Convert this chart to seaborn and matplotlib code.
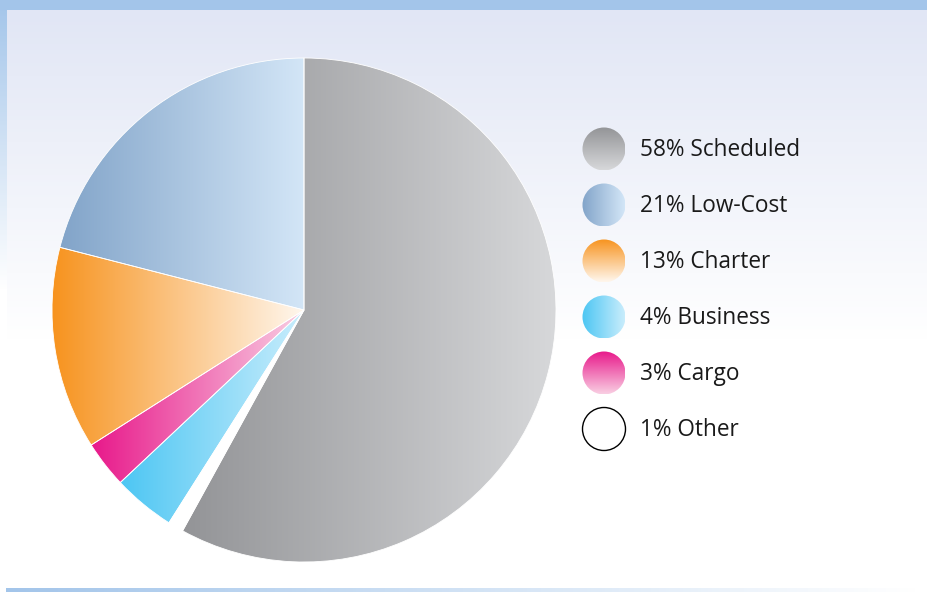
import numpy as np
import matplotlib
matplotlib.use("Agg")
import matplotlib.pyplot as plt
import seaborn as sns

# Market share by airline type (legend order)
categories = ["Scheduled", "Low-Cost", "Charter", "Business", "Cargo", "Other"]
shares = [58, 21, 13, 4, 3, 1]

# gradient start / end colours per category
color_start = ["#939497", "#82a4c9", "#f7931e", "#4cc6f3", "#e8188a", "#ffffff"]
color_end = ["#d7d8da", "#d3e6f7", "#fff7ee", "#c9edfc", "#f9cfe3", "#ffffff"]
# legend swatches: vertical or horizontal gradient
legend_dir = ["v", "h", "v", "h", "v", "none"]

# pie is drawn clockwise from 12 o'clock in this order
pie_order = [0, 5, 3, 4, 2, 1]

W, H = 928, 592
sns.set_theme(style="white")
plt.rcParams["font.family"] = ["Open Sans", "DejaVu Sans"]

fig = plt.figure(figsize=(W / 100, H / 100), dpi=100)
ax = fig.add_axes([0, 0, 1, 1])
ax.set_xlim(0, W)
ax.set_ylim(0, H)
ax.axis("off")


def Y(y):
    # pixel row (from top) -> data y
    return H - y


def grad_image(c0, c1, direction, extent, clip=None, zorder=2):
    cmap = sns.blend_palette([c0, c1], as_cmap=True)
    g = np.linspace(0, 1, 256)
    arr = g.reshape(1, -1) if direction == "h" else g.reshape(-1, 1)
    im = ax.imshow(arr, cmap=cmap, vmin=0, vmax=1, extent=extent,
                   origin="upper", aspect="auto", interpolation="bicubic",
                   zorder=zorder)
    if clip is not None:
        im.set_clip_path(clip)
    return im


# ---- background frame ----
# panel gradient (lavender at top fading to white)
rows = np.clip((np.arange(10, H) - 10) / 330.0, 0, 1).reshape(-1, 1)
panel_cmap = sns.blend_palette(["#e1e6f5", "#ffffff"], as_cmap=True)
ax.imshow(rows, cmap=panel_cmap, vmin=0, vmax=1, extent=(7, W + 2, Y(H), Y(10)),
          origin="upper", aspect="auto", zorder=0)
# left strip
rows_l = np.clip(np.arange(0, H) / 290.0, 0, 1).reshape(-1, 1)
strip_cmap = sns.blend_palette(["#a3c5ea", "#ffffff"], as_cmap=True)
ax.imshow(rows_l, cmap=strip_cmap, vmin=0, vmax=1, extent=(0, 7, Y(H), Y(0)),
          origin="upper", aspect="auto", zorder=0)
# top band
ax.add_patch(plt.Rectangle((0, Y(10)), W, 10, color="#a3c5ea", lw=0, zorder=1))
# bottom rule
grad_image("#a3c5ea", "#ffffff", "h", (6, 920, Y(592), Y(588)), zorder=1)

# ---- pie ----
cx, cy, r = 304, 310, 252
vals = [shares[i] for i in pie_order]
wedges, _ = ax.pie(vals, startangle=90, counterclock=False,
                   center=(cx, Y(cy)), radius=r, frame=True,
                   wedgeprops=dict(facecolor="none", edgecolor="white",
                                   linewidth=0.6, zorder=3))
for w, i in zip(wedges, pie_order):
    if categories[i] == "Other":
        w.set_facecolor("white")
        continue
    bb = w.get_path().get_extents()
    grad_image(color_start[i], color_end[i], "h",
               (bb.x0, bb.x1, bb.y0, bb.y1), clip=w, zorder=2)

# ---- legend ----
lx, ly0, dy, lr = 604, 149, 56, 21.5
for k, lab in enumerate(categories):
    yy = Y(ly0 + k * dy)
    circ = plt.Circle((lx, yy), lr, facecolor="none",
                      edgecolor="black" if legend_dir[k] == "none" else "none",
                      lw=1.0, zorder=4)
    ax.add_patch(circ)
    if legend_dir[k] == "none":
        circ.set_facecolor("white")
    else:
        grad_image(color_start[k], color_end[k], legend_dir[k],
                   (lx - lr, lx + lr, yy - lr, yy + lr), clip=circ, zorder=3)
    ax.text(640, yy - 1, f"{shares[k]}% {lab}", fontsize=16.3, color="#1a1a1a",
            va="center", ha="left", zorder=5)

ax.set_xlim(0, W)
ax.set_ylim(0, H)
ax.set_aspect("auto")
ax.axis("off")

fig.savefig("out.png", dpi=100)
